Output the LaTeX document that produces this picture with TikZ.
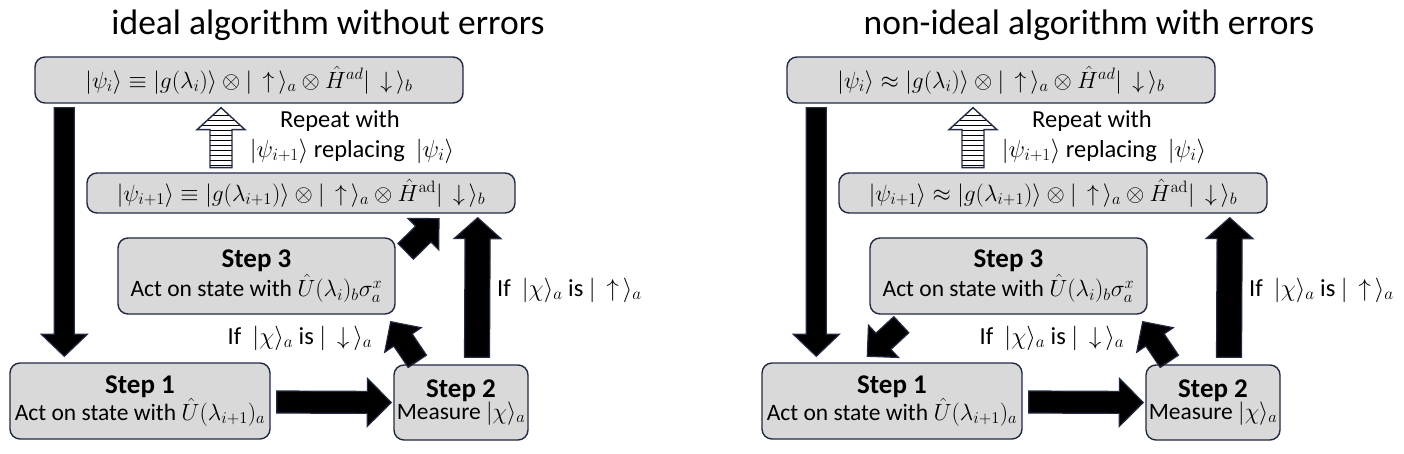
\RequirePackage{fix-cm}
\documentclass[tikz,border=0pt]{standalone}
\usepackage[no-math]{fontspec}
\setmainfont{Carlito}
\usetikzlibrary{calc}
\definecolor{boxgray}{HTML}{D9D9D9}
\definecolor{navy}{HTML}{1F2A44}
\tikzset{
  box/.style={draw=navy, fill=boxgray, line width=1.4pt, rounded corners=10pt, inner sep=0pt, align=center},
  blk/.style={fill=black, draw=navy, line width=1.2pt, line join=miter},
  titletxt/.style={font=\fontsize{35.5}{38}\selectfont},
  mathtxt/.style={font=\fontsize{23.5}{26}\selectfont},
  labtxt/.style={font=\fontsize{24.5}{27}\selectfont, inner sep=0pt},
}
\newcommand{\stepfont}{\fontsize{27}{30}\bfseries\selectfont}
\newcommand{\bodyfont}{\fontsize{23.5}{26}\selectfont}
% block arrow: tail, tip, half shaft, half head, head length
\newcommand{\barrow}[5]{%
  \path (#1) coordinate (bA) (#2) coordinate (bB);
  \coordinate (bH) at ($(bB)!#5pt!(bA)$);
  \filldraw[blk] ($(bA)!#3pt!90:(bB)$) -- ($(bH)!#3pt!-90:(bA)$) -- ($(bH)!#4pt!-90:(bA)$)
    -- (bB) -- ($(bH)!#4pt!90:(bA)$) -- ($(bH)!#3pt!90:(bA)$) -- ($(bA)!#3pt!-90:(bB)$) -- cycle;
}
\newcommand{\hollowarrow}[1]{%
  \path (#1) coordinate (hT);
  \begin{scope}
    \path[fill=white] (hT) -- ++(24,22) -- ++(-13,0) -- ++(0,38) -- ++(-22,0) -- ++(0,-38) -- ++(-13,0) -- cycle;
    \clip (hT) -- ++(24,22) -- ++(-13,0) -- ++(0,38) -- ++(-22,0) -- ++(0,-38) -- ++(-13,0) -- cycle;
    \foreach \k in {8,13,...,58} \draw[line width=1.3pt] ($(hT)+(-30,\k)$) -- ++(60,0);
  \end{scope}
  \draw[navy, line width=1.4pt, line join=miter] (hT) -- ++(24,22) -- ++(-13,0) -- ++(0,38) -- ++(-22,0) -- ++(0,-38) -- ++(-13,0) -- cycle;
}
\newcommand{\panel}[3]{% x offset, relation symbol, prefix
  \begin{scope}[xshift=#1pt]
  \node[box, minimum width=428pt, minimum height=46pt, mathtxt] (#3top) at (249,80)
    {$|\psi_i\rangle #2 |g(\lambda_i)\rangle \otimes |\,\uparrow\,\rangle_a \otimes \hat{H}^{ad}|\,\downarrow\,\rangle_b$};
  \node[box, minimum width=428pt, minimum height=40pt, mathtxt] (#3box2) at (301,193)
    {$|\psi_{i+1}\rangle #2 |g(\lambda_{i+1})\rangle \otimes |\,\uparrow\,\rangle_a \otimes \hat{H}^{\mathrm{ad}}|\,\downarrow\,\rangle_b$};
  \node[box, minimum width=277pt, minimum height=76pt] (#3s3) at (256.5,276)
    {{\stepfont Step 3}\\[2pt]{\bodyfont Act on state with $\hat{U}(\lambda_i)_b\sigma_a^x$}};
  \node[box, minimum width=260pt, minimum height=76pt] (#3s1) at (140,401)
    {{\stepfont Step 1}\\[-1pt]{\bodyfont Act on state with $\hat{U}(\lambda_{i+1})_a$}};
  \node[box, minimum width=134pt, minimum height=75pt] (#3s2) at (461,402.5)
    {{\stepfont Step 2}\\[-1pt]{\bodyfont Measure $|\chi\rangle_a$}};
  \node[labtxt] (#3rep1) at (340,121) {Repeat with};
  \node[labtxt] (#3rep2) at (352,151) {$|\psi_{i+1}\rangle$ replacing \ $|\psi_i\rangle$};
  \node[labtxt, anchor=west] (#3up) at (497,290) {If \ $|\chi\rangle_a$ is $|\,\uparrow\,\rangle_a$};
  \node[labtxt] (#3down) at (300,338) {If \ $|\chi\rangle_a$ is $|\,\downarrow\,\rangle_a$};
  \hollowarrow{$(#3top.south)+(-28,4)$}
  \barrow{$(#3top.south west)+(30,4)$}{$(#3s1.north west)+(55,-6)$}{10}{23}{22}
  \barrow{$(#3s1.east)+(6,1)$}{$(#3s2.west)+(-2,0)$}{11}{24}{24}
  \barrow{$(#3s2.north)+(16,-7)$}{$(#3box2.south east)+(-38,4)$}{12.5}{23.5}{21}
  \barrow{$(#3s2.north west)+(24,-3)$}{$(#3s3.south east)+(-5,7)$}{11}{22}{22}
  \end{scope}
}
\begin{document}
\begin{tikzpicture}[x=1pt, y=-1pt]
\useasboundingbox (0,0) rectangle (1404,454);
\node[titletxt] (t1) at (328,25) {ideal algorithm without errors};
\node[titletxt] (t2) at (1089,25) {non-ideal algorithm with errors};
\panel{0}{\equiv}{L}
\barrow{$(Ls3.north east)+(10,14)$}{$(Lbox2.south)+(138,5)$}{11}{22}{22}
\panel{752}{\approx}{R}
\barrow{$(Rs3.south west)+(32,10)$}{$(Rs1.north west)+(106,-6)$}{11}{22}{22}
\end{tikzpicture}
\end{document}
